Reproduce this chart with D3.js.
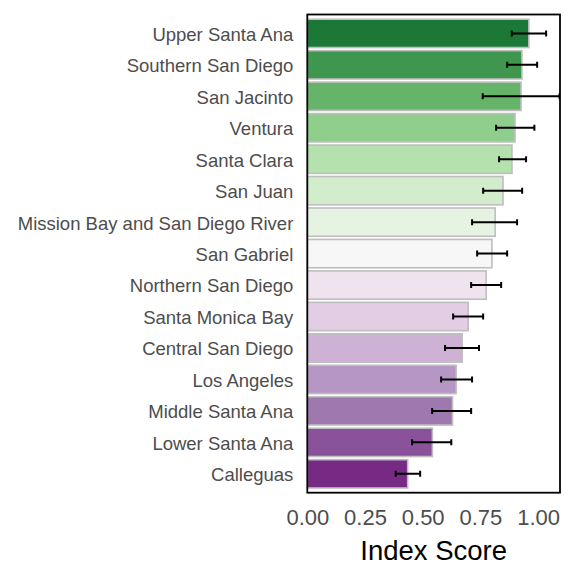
<!DOCTYPE html>
<html>
<head>
<meta charset="utf-8">
<script src="https://cdn.jsdelivr.net/npm/d3@7"></script>
<style>
html,body{margin:0;padding:0;background:#fff;}
svg{display:block;}
</style>
</head>
<body>
<svg id="chart" width="576" height="576"></svg>
<script>
// Data (top to bottom)
const categories = ["Upper Santa Ana","Southern San Diego","San Jacinto","Ventura","Santa Clara","San Juan","Mission Bay and San Diego River","San Gabriel","Northern San Diego","Santa Monica Bay","Central San Diego","Los Angeles","Middle Santa Ana","Lower Santa Ana","Calleguas"];
const scores = [0.960,0.930,0.926,0.900,0.887,0.848,0.814,0.800,0.775,0.697,0.671,0.645,0.629,0.542,0.435];
const lower  = [0.886,0.866,0.760,0.818,0.831,0.762,0.714,0.736,0.710,0.632,0.597,0.580,0.541,0.454,0.383];
const upper  = [1.035,0.996,1.093,0.984,0.948,0.931,0.909,0.866,0.840,0.762,0.744,0.714,0.710,0.624,0.489];
const xTicks = [0,0.25,0.5,0.75,1.0];
const paletteBase = ["#762a83","#9970ab","#c2a5cf","#e7d4e8","#f7f7f7","#d9f0d3","#a6dba0","#5aae61","#1b7837"];

const svg = d3.select("#chart");
const FONT = "Liberation Sans, Arial, sans-serif";
const margin = {left:307.3, right:16, top:14.5, bottom:83.3};
const W = 576, H = 576;
const x = d3.scaleLinear().domain([0,1.095]).range([margin.left, W-margin.right]);
const y = d3.scaleBand().domain(categories).range([margin.top, H-margin.bottom]).paddingInner(0.1).paddingOuter(0.15);
const ramp = d3.piecewise(d3.interpolateRgb, paletteBase);
const n = categories.length;
const color = i => ramp((n-1-i)/(n-1));

svg.append("defs").append("clipPath").attr("id","clip")
  .append("rect").attr("x",margin.left).attr("y",margin.top)
  .attr("width",W-margin.right-margin.left).attr("height",H-margin.bottom-margin.top);

const g = svg.append("g").attr("clip-path","url(#clip)");

g.selectAll("rect.bar").data(categories).enter().append("rect")
  .attr("class","bar")
  .attr("x", x(0))
  .attr("y", d => y(d))
  .attr("width", (d,i) => x(scores[i]) - x(0))
  .attr("height", y.bandwidth())
  .attr("fill", (d,i) => color(i))
  .attr("stroke","#bebebe")
  .attr("stroke-width",1.6);

const capH = 6;
const cy = d => y(d)+y.bandwidth()/2;
const eb = g.selectAll("g.eb").data(categories).enter().append("g").attr("class","eb");
eb.append("line")
  .attr("x1",(d,i)=>x(lower[i])).attr("x2",(d,i)=>x(upper[i]))
  .attr("y1",cy).attr("y2",cy)
  .attr("stroke","#000").attr("stroke-width",2);
eb.append("line")
  .attr("x1",(d,i)=>x(lower[i])).attr("x2",(d,i)=>x(lower[i]))
  .attr("y1",d=>cy(d)-capH/2).attr("y2",d=>cy(d)+capH/2)
  .attr("stroke","#000").attr("stroke-width",2);
eb.append("line")
  .attr("x1",(d,i)=>x(upper[i])).attr("x2",(d,i)=>x(upper[i]))
  .attr("y1",d=>cy(d)-capH/2).attr("y2",d=>cy(d)+capH/2)
  .attr("stroke","#000").attr("stroke-width",2);

// panel border
svg.append("rect").attr("x",margin.left).attr("y",margin.top)
  .attr("width",W-margin.right-margin.left).attr("height",H-margin.bottom-margin.top)
  .attr("fill","none").attr("stroke","#000").attr("stroke-width",1.8);

// y axis labels
const yAxis = d3.axisLeft(y).tickSize(0).tickPadding(14);
const ya = svg.append("g").attr("transform",`translate(${margin.left},0)`).call(yAxis);
ya.select(".domain").remove();
ya.selectAll("text").attr("font-family",FONT).attr("font-size","18.5px").attr("fill","#4d4d4d").attr("dy","0.4em");

// x axis
const xAxis = d3.axisBottom(x).tickValues(xTicks).tickFormat(d3.format(".2f")).tickSize(0).tickPadding(0);
const xa = svg.append("g").attr("transform",`translate(0,${H-margin.bottom})`).call(xAxis);
xa.select(".domain").remove();
xa.selectAll("text").attr("font-family",FONT).attr("font-size","22px").attr("fill","#4d4d4d")
  .attr("dy",null).attr("y",32.2);

svg.append("text").attr("x",(margin.left+W-margin.right)/2).attr("y",559.5)
  .attr("text-anchor","middle").attr("font-family",FONT)
  .attr("font-size","27.5px").attr("fill","#000").text("Index Score");
</script>
</body>
</html>
